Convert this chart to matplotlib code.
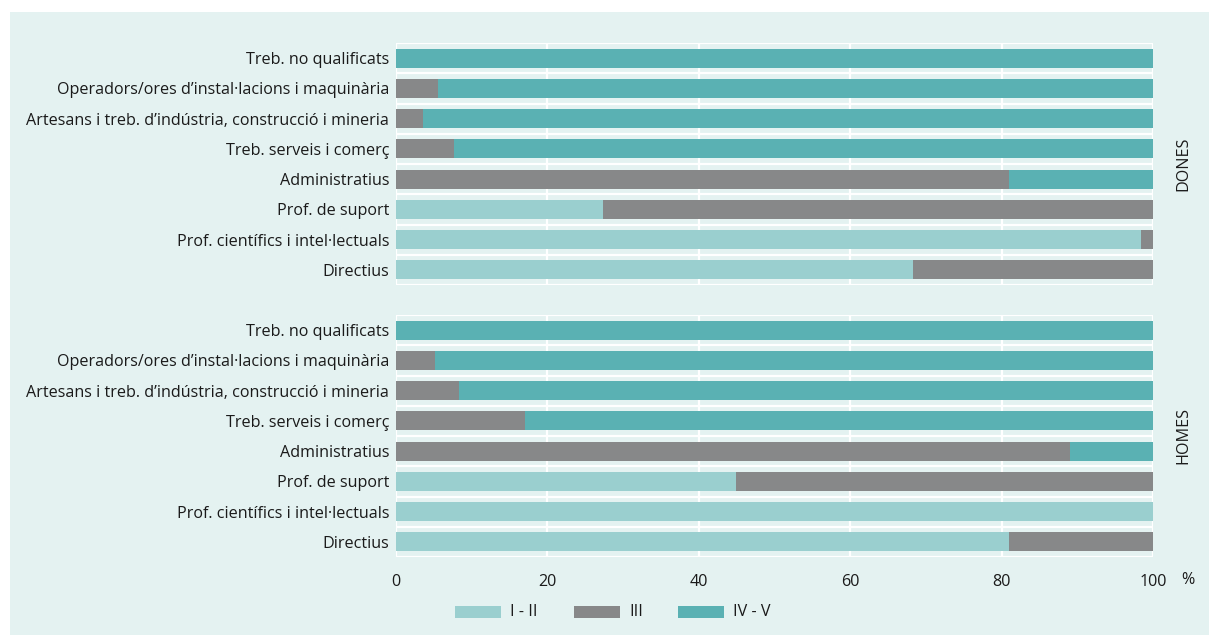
import matplotlib
matplotlib.use("Agg")
import matplotlib.pyplot as plt
from matplotlib.patches import Rectangle
import numpy as np

plt.rcParams['font.family'] = ['Open Sans', 'DejaVu Sans']

categories = [
    "Treb. no qualificats",
    "Operadors/ores d\u2019instal\u00b7lacions i maquin\u00e0ria",
    "Artesans i treb. d\u2019ind\u00fastria, construcci\u00f3 i mineria",
    "Treb. serveis i comer\u00e7",
    "Administratius",
    "Prof. de suport",
    "Prof. cient\u00edfics i intel\u00b7lectuals",
    "Directius",
]
series_names = ["I - II", "III", "IV - V"]
panels = ["DONES", "HOMES"]

dones_I_II = [0, 0, 0, 0, 0, 27.3, 98.4, 68.3]
dones_III = [0, 5.6, 3.6, 7.7, 81.0, 72.7, 1.6, 31.7]
dones_IV_V = [100, 94.4, 96.4, 92.3, 19.0, 0, 0, 0]

homes_I_II = [0, 0, 0, 0, 0, 44.9, 100, 81.0]
homes_III = [0, 5.2, 8.3, 17.1, 89.1, 55.1, 0, 19.0]
homes_IV_V = [100, 94.8, 91.7, 82.9, 10.9, 0, 0, 0]

x_ticks = [0, 20, 40, 60, 80, 100]

colors = ["#9acfcf", "#878889", "#5ab1b3"]
bg = "#e4f2f1"
txt = "#1a1a1a"

W, H = 1209, 635
fig = plt.figure(figsize=(W / 100, H / 100), dpi=100)
fig.patch.set_facecolor("white")
fig.add_artist(Rectangle((10 / W, 0), 1 - 10 / W, 1 - 12 / H, transform=fig.transFigure,
                         facecolor=bg, edgecolor="none", zorder=-10))

left = 396 / W
right = 1153 / W
ax1 = fig.add_axes([left, 1 - 285 / H, right - left, (285 - 43) / H])
ax2 = fig.add_axes([left, 1 - 557 / H, right - left, (557 - 315) / H])

data = {
    "DONES": [dones_I_II, dones_III, dones_IV_V],
    "HOMES": [homes_I_II, homes_III, homes_IV_V],
}

fs = 11.6
for ax, name in zip([ax1, ax2], panels):
    ax.set_facecolor(bg)
    y = np.arange(len(categories))
    leftacc = np.zeros(len(categories))
    for vals, c, lab in zip(data[name], colors, series_names):
        vals = np.array(vals)
        ax.barh(y, vals, left=leftacc, height=0.63, color=c, label=lab, zorder=3)
        leftacc += vals
    ax.set_ylim(len(categories) - 0.5, -0.5)
    ax.set_xlim(0, 100)
    ax.set_yticks(y)
    ax.set_yticklabels(categories, fontsize=fs, color=txt)
    ax.tick_params(axis='y', length=0, pad=5)
    for b in np.arange(-0.5, len(categories), 1.0):
        ax.axhline(b, color="white", lw=1.6, zorder=1)
    for xv in x_ticks:
        ax.axvline(xv, color="white", lw=1.6, zorder=1)
    for s in ax.spines.values():
        s.set_visible(False)
    ax.set_xticks(x_ticks)
    ax.text(1.04, 0.5, name, transform=ax.transAxes, rotation=90, ha="center",
            va="center", fontsize=fs, color=txt)

ax1.tick_params(axis='x', length=0, labelbottom=False)
ax2.tick_params(axis='x', length=0, labelsize=fs, labelcolor=txt, pad=12)
fig.text(1188 / W, 1 - 580 / H, "%", ha="center", va="center", fontsize=fs, color=txt)

# legend drawn manually
leg_x = [455, 574, 678]
ly = 612
for x0, c, lab in zip(leg_x, colors, series_names):
    fig.add_artist(Rectangle((x0 / W, 1 - (ly + 6) / H), 46 / W, 12 / H,
                             transform=fig.transFigure, facecolor=c, edgecolor="none"))
    fig.text((x0 + 55) / W, 1 - ly / H, lab, ha="left", va="center", fontsize=fs, color=txt)

fig.savefig("out.png", dpi=100, facecolor=fig.get_facecolor())
